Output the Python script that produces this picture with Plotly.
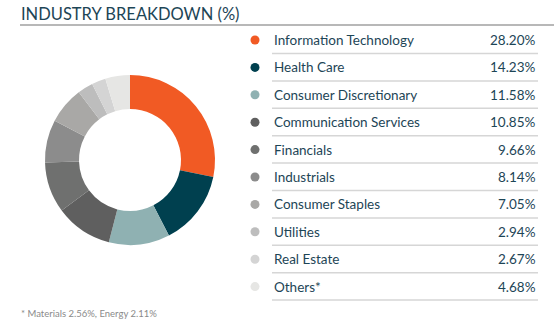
import plotly.graph_objects as go

W, H = 554, 330

categories = ["Information Technology", "Health Care", "Consumer Discretionary",
              "Communication Services", "Financials", "Industrials",
              "Consumer Staples", "Utilities", "Real Estate", "Others*"]
values = [28.20, 14.23, 11.58, 10.85, 9.66, 8.14, 7.05, 2.94, 2.67, 4.68]
value_labels = ["28.20%", "14.23%", "11.58%", "10.85%", "9.66%", "8.14%",
                "7.05%", "2.94%", "2.67%", "4.68%"]
colors = ["#f15a24", "#00404f", "#8fb1b2", "#5f5f5f", "#6f706f", "#8c8c8c",
          "#a9a8a6", "#bdbdbd", "#d4d4d4", "#e6e6e4"]
title_text = "INDUSTRY BREAKDOWN (%)"
footnote = "* Materials 2.56%, Energy 2.11%"

TXT = "#1d4556"

def px(x):
    return x / W

def py(y):
    return 1 - y / H

fig = go.Figure()
fig.add_trace(go.Pie(
    values=values, labels=categories, hole=0.6, sort=False,
    direction="clockwise", rotation=0,
    marker=dict(colors=colors, line=dict(width=0)),
    textinfo="none", hoverinfo="label+percent", showlegend=False,
    domain=dict(x=[px(45), px(215)], y=[py(245), py(75)]),
))

shapes = []
annotations = []

# title + underline
annotations.append(dict(x=px(19), y=py(14), xref="paper", yref="paper",
                        text=title_text, showarrow=False, xanchor="left", yanchor="middle",
                        font=dict(family="Lato", size=16.5, color=TXT)))
shapes.append(dict(type="line", xref="paper", yref="paper", x0=px(20), x1=px(554),
                   y0=py(25), y1=py(25), line=dict(color="#a0a0a0", width=1.5)))

row0, step = 40, 27.4
for i, (c, v, col) in enumerate(zip(categories, value_labels, colors)):
    yc = row0 + i * step
    shapes.append(dict(type="circle", xref="paper", yref="paper",
                       x0=px(250.5), x1=px(259.5), y0=py(yc + 4.5), y1=py(yc - 4.5),
                       fillcolor=col, line=dict(width=0)))
    annotations.append(dict(x=px(272), y=py(yc), xref="paper", yref="paper", text=c,
                            showarrow=False, xanchor="left", yanchor="middle",
                            font=dict(family="Lato", size=13.5, color=TXT)))
    annotations.append(dict(x=px(538), y=py(yc), xref="paper", yref="paper", text=v,
                            showarrow=False, xanchor="right", yanchor="middle",
                            font=dict(family="Lato", size=13.5, color=TXT)))
    ly = yc + 13.5
    shapes.append(dict(type="line", xref="paper", yref="paper", x0=px(272), x1=px(538),
                       y0=py(ly), y1=py(ly), line=dict(color="#d6d6d6", width=1.5)))

annotations.append(dict(x=px(19), y=py(313), xref="paper", yref="paper", text=footnote,
                        showarrow=False, xanchor="left", yanchor="middle",
                        font=dict(family="Lato", size=9.5, color="#8a8a8a")))

fig.update_layout(width=W, height=H, margin=dict(l=0, r=0, t=0, b=0),
                  paper_bgcolor="white", plot_bgcolor="white",
                  shapes=shapes, annotations=annotations)
fig.write_html("out.html")
